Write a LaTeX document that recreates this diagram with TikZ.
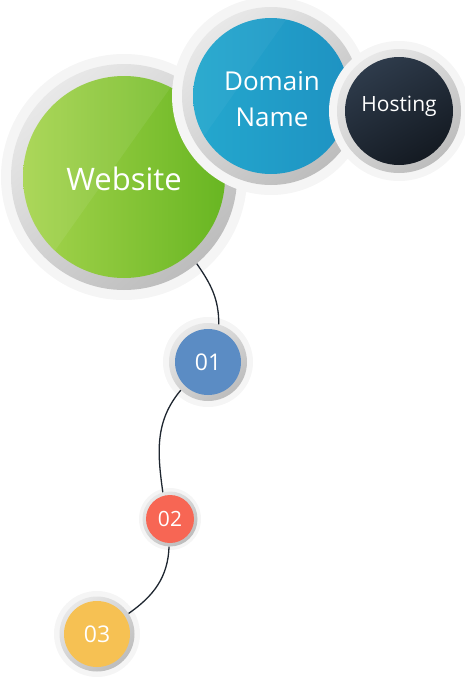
\documentclass[tikz,border=0pt]{standalone}
\usepackage{fontspec}
\setmainfont{Open Sans}
\begin{document}
\begin{tikzpicture}[x=1pt,y=1pt,
  halo/.style={fill=black!4},
  ringc/.style={circle,inner sep=0pt,draw=none,top color=black!9,bottom color=black!26,shading angle=40},
  disc/.style={circle,inner sep=0pt,draw=none,text=white,align=center},
  link/.style={draw={rgb,255:red,30;green,38;blue,48},line width=1.3pt}]
\useasboundingbox (0,0) rectangle (465,-678);
% Website
\fill[halo] (124,-177) circle (123);
\node[ringc,minimum size=226] (webring) at (124,-177) {};
\node[disc,minimum size=202,left color={rgb,255:red,166;green,212;blue,78},right color={rgb,255:red,104;green,182;blue,34}] (web) at (124,-177) {};
\begin{scope}
\clip (124,-177) circle (101);
\fill[white,opacity=0.07] (20,-60) -- (190,-60) -- (20,-300) -- cycle;
\end{scope}
\node[text=white,font=\fontsize{31}{36}\selectfont] (webt) at (124,-179) {Website};
% Domain Name
\fill[halo] (271,-96) circle (99);
\node[ringc,minimum size=178] (domring) at (271,-96) {};
\node[disc,minimum size=156,left color={rgb,255:red,36;green,168;blue,206},right color={rgb,255:red,30;green,146;blue,194}] (dom) at (271,-96) {};
\begin{scope}
\clip (271,-96) circle (78);
\fill[white,opacity=0.04] (180,0) -- (300,0) -- (180,-170) -- cycle;
\end{scope}
\node[text=white,align=center,font=\fontsize{26}{36}\selectfont] (domt) at (272,-99) {Domain\\Name};
% Hosting
\fill[halo] (399,-111) circle (70);
\node[ringc,minimum size=124] (hostring) at (399,-111) {};
\node[disc,minimum size=108,top color={rgb,255:red,46;green,59;blue,75},bottom color={rgb,255:red,20;green,26;blue,34},shading angle=30] (host) at (399,-111) {};
\node[text=white,font=\fontsize{21}{24}\selectfont] (hostt) at (399,-106) {Hosting};
% 01
\fill[halo] (208,-362) circle (45);
\node[ringc,minimum size=78] (oner) at (208,-362) {};
\node[disc,minimum size=66,fill={rgb,255:red,91;green,140;blue,196},font=\fontsize{23}{26}\selectfont] (one) at (208,-362) {01};
% 02
\fill[halo] (170,-519) circle (31);
\node[ringc,minimum size=55] (twor) at (170,-519) {};
\node[disc,minimum size=48,fill={rgb,255:red,247;green,102;blue,84},font=\fontsize{21}{24}\selectfont] (two) at (170,-519) {02};
% 03
\fill[halo] (97,-634) circle (43);
\node[ringc,minimum size=75] (threer) at (97,-634) {};
\node[disc,minimum size=66,fill={rgb,255:red,246;green,193;blue,83},font=\fontsize{23}{26}\selectfont] (three) at (97,-634) {03};
% connectors
\draw[link] (webring.-50) to[out=-55,in=90] (oner.74);
\draw[link] (oner.-134) to[out=-130,in=98] (twor.105);
\draw[link] (twor.-92) to[out=-92,in=35] (threer.33);
\end{tikzpicture}
\end{document}
